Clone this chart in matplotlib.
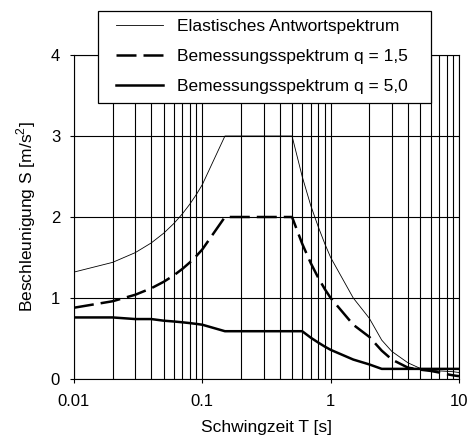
import numpy as np
import matplotlib
matplotlib.use("Agg")
import matplotlib.pyplot as plt
from matplotlib.patches import Rectangle

# Response spectra
periods = [0.01, 0.02, 0.03, 0.04, 0.05, 0.06, 0.07, 0.08, 0.09, 0.1,
           0.15, 0.2, 0.3, 0.4, 0.5, 0.6, 0.7, 0.8, 0.9, 1.0,
           1.5, 2.0, 2.5, 3.0, 4.0, 5.0, 6.0, 7.0, 8.0, 9.0, 10.0]
elastic = [1.32, 1.44, 1.56, 1.68, 1.80, 1.92, 2.04, 2.16, 2.28, 2.40,
           3.0, 3.0, 3.0, 3.0, 3.0, 2.5, 2.14, 1.88, 1.67, 1.5,
           1.0, 0.75, 0.48, 0.34, 0.20, 0.13, 0.11, 0.10, 0.095, 0.09, 0.08]
design_q15 = [0.88, 0.96, 1.04, 1.12, 1.20, 1.28, 1.36, 1.44, 1.52, 1.60,
              2.0, 2.0, 2.0, 2.0, 2.0, 1.67, 1.43, 1.25, 1.11, 1.0,
              0.67, 0.52, 0.35, 0.24, 0.14, 0.115, 0.10, 0.08, 0.06, 0.045, 0.035]
design_q50 = [0.76, 0.76, 0.74, 0.74, 0.72, 0.71, 0.70, 0.69, 0.68, 0.67,
              0.59, 0.59, 0.59, 0.59, 0.59, 0.59, 0.51, 0.45, 0.40, 0.36,
              0.24, 0.18, 0.125, 0.125, 0.125, 0.125, 0.125, 0.125, 0.125, 0.125, 0.125]

legend_labels = ["Elastisches Antwortspektrum",
                 "Bemessungsspektrum q = 1,5",
                 "Bemessungsspektrum q = 5,0"]
x_ticks = [0.01, 0.1, 1, 10]
x_tick_labels = ["0.01", "0.1", "1", "10"]
y_ticks = [0, 1, 2, 3, 4]

plt.rcParams['font.family'] = ['Liberation Sans', 'DejaVu Sans']
plt.rcParams['mathtext.fontset'] = 'custom'
plt.rcParams['mathtext.rm'] = 'Liberation Sans'

W, H = 471, 438
fig = plt.figure(figsize=(W / 100, H / 100), dpi=100)
ax = fig.add_axes([74 / W, 1 - 379 / H, (459 - 74) / W, (379 - 55) / H])

# grid at every decade subdivision
minor_x = [m * 10.0 ** e for e in (-2, -1, 0) for m in range(1, 10)] + [10]
for xv in minor_x:
    ax.axvline(xv, color='black', lw=0.8, zorder=1)
for yv in y_ticks:
    ax.axhline(yv, color='black', lw=0.8, zorder=1)

h1, = ax.plot(periods, elastic, color='black', lw=0.6, zorder=3)
h2, = ax.plot(periods, design_q15, color='black', lw=1.8, dashes=(8, 2.8), zorder=3)
h3, = ax.plot(periods, design_q50, color='black', lw=1.8, zorder=3)

ax.set_xscale('log')
ax.set_xlim(0.01, 10)
ax.set_ylim(0, 4)
ax.set_xticks(x_ticks)
ax.set_xticklabels(x_tick_labels)
ax.xaxis.set_minor_locator(plt.NullLocator())
ax.set_yticks(y_ticks)
ax.tick_params(axis='both', direction='out', length=3, width=0.8,
               labelsize=12, colors='black')
ax.tick_params(axis='x', pad=8)
ax.tick_params(axis='y', pad=7)
for s in ax.spines.values():
    s.set_linewidth(0.8)

ax.set_xlabel('Schwingzeit T [s]', fontsize=12.5, labelpad=8)
ax.set_ylabel('Beschleunigung S [m/s$^2$]', fontsize=12.5, labelpad=9)

# legend box drawn in figure pixels so it can overlap the plot top
box = Rectangle((97.7 / W, 1 - 103 / H), (431 - 97.7) / W, (103 - 11) / H,
                transform=fig.transFigure, facecolor='white', edgecolor='black',
                lw=0.9, zorder=4)
fig.patches.append(box)
leg = fig.legend([h1, h2, h3], legend_labels, loc='upper left',
                 bbox_to_anchor=(115.7 / W, 1 - 19 / H),
                 bbox_transform=fig.transFigure, frameon=False,
                 fontsize=12.5, handlelength=2.75, handletextpad=0.8,
                 borderpad=0, borderaxespad=0, labelspacing=0.86)
leg.set_zorder(5)

fig.savefig('out.png', dpi=100)
